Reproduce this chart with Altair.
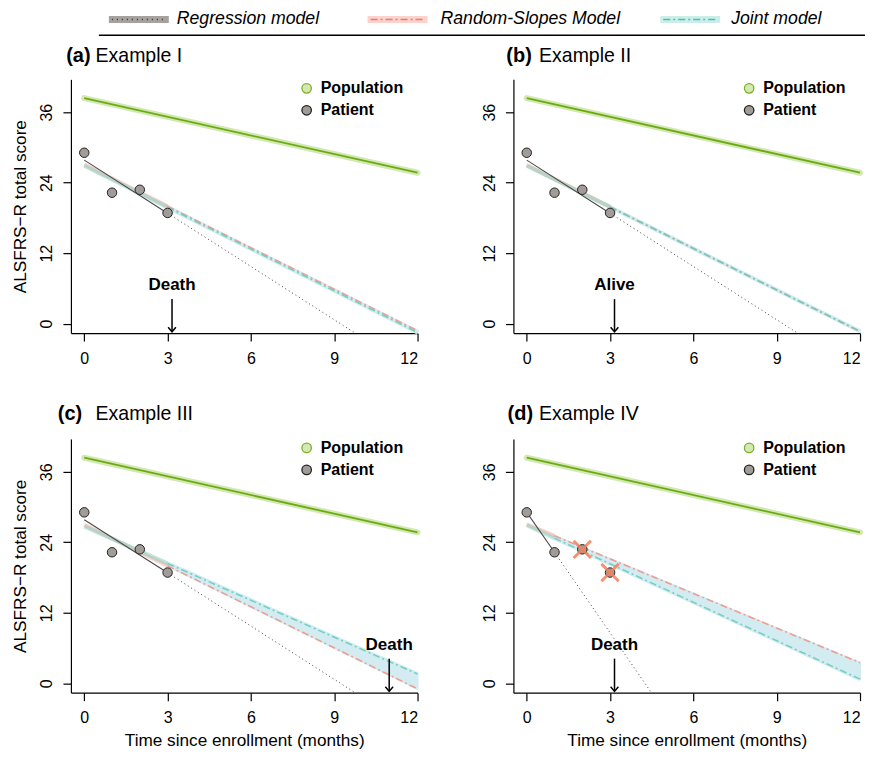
import altair as alt
import pandas as pd

# ---------------- data ----------------
panel_tags = ["(a)", "(b)", "(c)", "(d)"]
panel_names = ["Example I", "Example II", "Example III", "Example IV"]

obs_months = [0, 1, 2, 3]
obs_scores = [29.1, 22.3, 22.8, 18.85]

pop_months = [0, 12]
pop_scores = [38.4, 25.7]

fit_end = [3, 3, 3, 1]

# regression model: score at month 0, at end of fit, at month 12
reg_at0 = [27.85, 27.85, 27.85, 29.1]
reg_at_fe = [18.8, 18.8, 18.8, 22.3]
reg_at12 = [-8.4, -8.4, -8.4, -53.1]

# random-slopes model
rs_at0 = [27.1, 27.0, 27.0, 27.05]
rs_at_fe = [20.0, 19.9, 20.0, 25.1]
rs_at12 = [-1.2, -1.35, -0.96, 3.5]

# joint model
jm_at0 = [26.9, 26.9, 26.7, 26.9]
jm_at_fe = [19.8, 19.85, 20.4, 24.7]
jm_at12 = [-1.5, -1.3, 1.57, 0.7]

excluded_months = [[], [], [], [2, 3]]
excluded_scores = [[], [], [], [22.8, 18.85]]

event_labels = ["Death", "Alive", "Death", "Death"]
event_months = [3.16, 3.16, 10.98, 3.16]

legend_labels = ["Regression model", "Random-Slopes Model", "Joint model"]
inner_legend = ["Population", "Patient"]

x_ticks = [0, 3, 6, 9, 12]
y_ticks = [0, 12, 24, 36]

# ---------------- styles ----------------
FONT = "Liberation Sans"
W, H = 347, 254
XS = alt.Scale(domain=[-0.48, 12], nice=False, zero=False)
YS = alt.Scale(domain=[-1.6, 41.6], nice=False, zero=False)

POP_BAND = "#d3e8b2"
POP_LINE = "#6aab14"
PT_FILL = "#a29c98"
RS_BAND = "#f5a89e"
RS_LINE = "#f39586"
JM_BAND = "#86d3c3"
JM_LINE = "#6ccbbf"
AREA = "#d3ecf1"
X_MARK = "#f4805c"

X_SHAPE = "M-1,-1L1,1M-1,1L1,-1"
ARROW_SHAPE = "M-1,-1L0,0.2L1,-1"
DASHDOT = [7, 3, 2, 3]


def make_panel(i, x_title, y_title):
    xaxis = alt.Axis(values=x_ticks, title=x_title, format="d")
    yaxis = alt.Axis(values=y_ticks, title=y_title, format="d",
                     labelAngle=-90, labelAlign="center", labelBaseline="bottom")

    def X(f):
        return alt.X(f, type="quantitative", scale=XS, axis=xaxis)

    def Y(f):
        return alt.Y(f, type="quantitative", scale=YS, axis=yaxis)

    fe = fit_end[i]
    pop_df = pd.DataFrame({"m": pop_months, "s": pop_scores})
    obs_df = pd.DataFrame({"m": obs_months, "s": obs_scores})
    reg_fit = pd.DataFrame({"m": [0, fe], "s": [reg_at0[i], reg_at_fe[i]]})
    reg_proj = pd.DataFrame({"m": [fe, 12], "s": [reg_at_fe[i], reg_at12[i]]})
    rs_fit = pd.DataFrame({"m": [0, fe], "s": [rs_at0[i], rs_at_fe[i]]})
    rs_proj = pd.DataFrame({"m": [fe, 12], "s": [rs_at_fe[i], rs_at12[i]]})
    jm_fit = pd.DataFrame({"m": [0, fe], "s": [jm_at0[i], jm_at_fe[i]]})
    jm_proj = pd.DataFrame({"m": [fe, 12], "s": [jm_at_fe[i], jm_at12[i]]})
    band = pd.DataFrame({"m": [fe, 12], "lo": [jm_at_fe[i], jm_at12[i]],
                         "hi": [rs_at_fe[i], rs_at12[i]]})
    ev = pd.DataFrame({"m": [event_months[i]], "label": [event_labels[i]]})

    layers = [
        alt.Chart(pop_df).mark_line(color=POP_BAND, strokeWidth=6, strokeCap="round")
        .encode(x=X("m"), y=Y("s")),
        alt.Chart(pop_df).mark_line(color=POP_LINE, strokeWidth=1.8)
        .encode(x=X("m"), y=Y("s")),
        alt.Chart(band).mark_area(color=AREA, stroke=AREA, strokeWidth=2, opacity=1)
        .encode(x=X("m"), y=Y("lo"), y2=alt.Y2("hi")),
        alt.Chart(jm_proj).mark_line(color=AREA, strokeWidth=4)
        .encode(x=X("m"), y=Y("s")),
        alt.Chart(rs_fit).mark_line(color=RS_BAND, strokeWidth=4, opacity=0.55)
        .encode(x=X("m"), y=Y("s")),
        alt.Chart(jm_fit).mark_line(color=JM_BAND, strokeWidth=4, opacity=0.55)
        .encode(x=X("m"), y=Y("s")),
        alt.Chart(rs_proj).mark_line(color=RS_LINE, strokeWidth=1.6, strokeDash=DASHDOT, opacity=0.9)
        .encode(x=X("m"), y=Y("s")),
        alt.Chart(jm_proj).mark_line(color=JM_LINE, strokeWidth=1.6, strokeDash=DASHDOT, opacity=0.9)
        .encode(x=X("m"), y=Y("s")),
        alt.Chart(reg_fit).mark_line(color="#4a4a4a", strokeWidth=1.1)
        .encode(x=X("m"), y=Y("s")),
        alt.Chart(reg_proj).mark_line(color="#444444", strokeWidth=1, strokeDash=[1, 3], clip=True)
        .encode(x=X("m"), y=Y("s")),
        alt.Chart(obs_df).mark_point(shape="circle", filled=True, fill=PT_FILL, stroke="#222222",
                                     strokeWidth=1, size=90, opacity=1)
        .encode(x=X("m"), y=Y("s")),
    ]
    if excluded_months[i]:
        ex_df = pd.DataFrame({"m": excluded_months[i], "s": excluded_scores[i]})
        layers.append(
            alt.Chart(ex_df).mark_point(shape=X_SHAPE, filled=False, stroke=X_MARK,
                                        strokeWidth=3, size=300, opacity=0.85)
            .encode(x=X("m"), y=Y("s"))
        )
    # event annotation
    layers += [
        alt.Chart(ev).mark_text(font=FONT, fontSize=17, fontWeight="bold", align="center",
                                baseline="middle", color="black")
        .encode(x=X("m"), y=alt.value(206), text="label:N"),
        alt.Chart(ev).mark_rule(color="black", strokeWidth=1.5)
        .encode(x=X("m"), y=alt.value(220), y2=alt.value(252)),
        alt.Chart(ev).mark_point(shape=ARROW_SHAPE, filled=False, stroke="black",
                                 strokeWidth=1.5, size=60, opacity=1)
        .encode(x=X("m"), y=alt.value(252)),
    ]
    # inner legend
    leg_fill = [POP_BAND, PT_FILL]
    leg_stroke = ["#7ab02a", "#222222"]
    leg_y = [9, 31]
    for k, lab in enumerate(inner_legend):
        d = pd.DataFrame({"t": [lab]})
        layers.append(
            alt.Chart(d).mark_point(shape="circle", filled=True, fill=leg_fill[k],
                                    stroke=leg_stroke[k], strokeWidth=1.3, size=90, opacity=1)
            .encode(x=alt.value(236), y=alt.value(leg_y[k]))
        )
        layers.append(
            alt.Chart(d).mark_text(font=FONT, fontSize=16, fontWeight="bold", align="left",
                                   baseline="middle", color="black")
            .encode(x=alt.value(250), y=alt.value(leg_y[k]), text="t:N")
        )
    # panel title
    tag_right = [19.7, 18.4, 11.3, 19.7][i]
    name_left = [24.7, 25.7, 24.7, 25.7][i]
    title_y = [-23, -23, -24.5, -24.5][i]
    layers.append(
        alt.Chart(pd.DataFrame({"t": [panel_tags[i]]}))
        .mark_text(font=FONT, fontSize=20, fontWeight="bold", align="right",
                   baseline="middle", color="black")
        .encode(x=alt.value(tag_right), y=alt.value(title_y), text="t:N")
    )
    layers.append(
        alt.Chart(pd.DataFrame({"t": [panel_names[i]]}))
        .mark_text(font=FONT, fontSize=19.5, fontWeight="normal", align="left",
                   baseline="middle", color="black")
        .encode(x=alt.value(name_left), y=alt.value(title_y), text="t:N")
    )
    return alt.layer(*layers).properties(width=W, height=H)


YT = "ALSFRS\u2212R total score"
XT = "Time since enrollment (months)"
pa = make_panel(0, None, YT)
pb = make_panel(1, None, None)
pc = make_panel(2, XT, YT)
pd_ = make_panel(3, XT, None)

# ---------------- top legend ----------------
sw_x = [38, 297, 590]
sw_w = 60
txt_x = [106, 370, 661]
sw_band = ["#a8a29e", "#fbd3cc", "#cdeee8"]
sw_line = ["#333333", "#f07a6a", "#3cc4c0"]
sw_dash = [[1, 4], DASHDOT, DASHDOT]
LEG_Y = 10
leg_layers = []
for k, lab in enumerate(legend_labels):
    d = pd.DataFrame({"t": [lab]})
    leg_layers.append(
        alt.Chart(d).mark_rule(color=sw_band[k], strokeWidth=7)
        .encode(x=alt.value(sw_x[k]), x2=alt.value(sw_x[k] + sw_w), y=alt.value(LEG_Y))
    )
    leg_layers.append(
        alt.Chart(d).mark_rule(color=sw_line[k], strokeWidth=1.5, strokeDash=sw_dash[k])
        .encode(x=alt.value(sw_x[k] + 3), x2=alt.value(sw_x[k] + sw_w - 3), y=alt.value(LEG_Y))
    )
    leg_layers.append(
        alt.Chart(d).mark_text(font=FONT, fontSize=17.7, fontStyle="italic", align="left",
                               baseline="middle", color="black")
        .encode(x=alt.value(txt_x[k]), y=alt.value(LEG_Y), text="t:N")
    )
leg_layers.append(
    alt.Chart(pd.DataFrame({"t": [""]})).mark_rule(color="black", strokeWidth=1.5)
    .encode(x=alt.value(28), x2=alt.value(795), y=alt.value(25.8))
)
legend = alt.layer(*leg_layers).properties(width=790, height=30)

grid = alt.concat(pa, pb, pc, pd_, columns=2,
                  spacing={"row": 106, "column": 96}, bounds="flush")

chart = (
    alt.vconcat(legend, grid, spacing=40, bounds="flush")
    .properties(padding={"left": 3, "top": 1, "right": 0, "bottom": 0})
    .configure(font=FONT)
    .configure_view(stroke=None)
    .configure_axis(
        grid=False,
        domainColor="black", domainWidth=1.2,
        tickColor="black", tickWidth=1.2, tickSize=8,
        labelColor="black", labelFontSize=16, labelFont=FONT,
        titleColor="black", titleFontSize=17.2, titleFont=FONT, titleFontWeight="normal",
    )
    .configure_axisX(labelPadding=9, titlePadding=6)
    .configure_axisY(labelPadding=8, titlePadding=9)
)

chart.save("out.html", embed_options={"renderer": "svg", "actions": False})
